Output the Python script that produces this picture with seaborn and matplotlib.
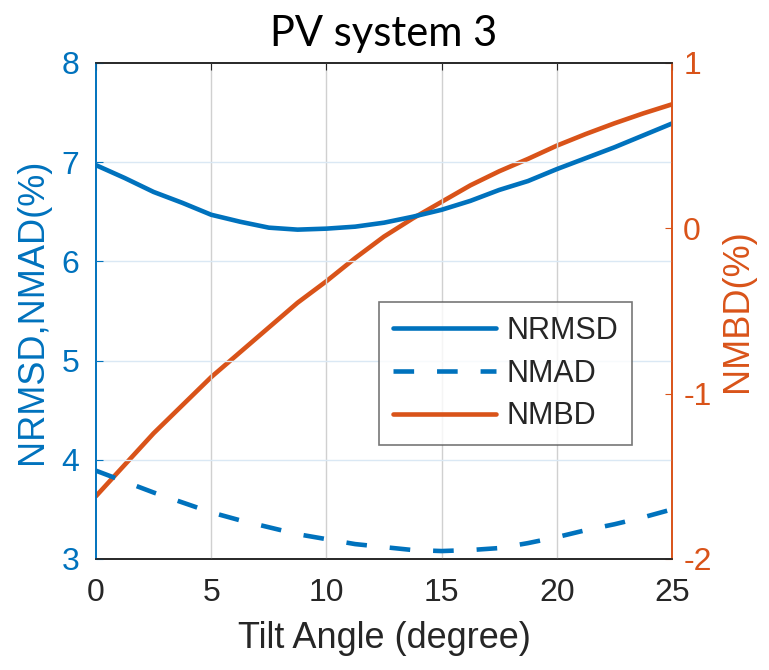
import numpy as np
import pandas as pd
import seaborn as sns
import matplotlib.pyplot as plt
from matplotlib.lines import Line2D

# values (every 1.25 degree)
tilt = [0, 1.25, 2.5, 3.75, 5, 6.25, 7.5, 8.75, 10, 11.25, 12.5,
        13.75, 15, 16.25, 17.5, 18.75, 20, 21.25, 22.5, 23.75, 25]
nrmsd = [6.97, 6.84, 6.70, 6.59, 6.47, 6.40, 6.34, 6.32, 6.33, 6.35, 6.39,
         6.45, 6.52, 6.61, 6.72, 6.81, 6.93, 7.04, 7.15, 7.27, 7.39]
nmad = [3.89, 3.78, 3.67, 3.57, 3.47, 3.39, 3.32, 3.25, 3.20, 3.15, 3.12,
        3.09, 3.08, 3.09, 3.11, 3.16, 3.22, 3.29, 3.35, 3.42, 3.50]
nmbd = [-1.62, -1.43, -1.24, -1.07, -0.90, -0.75, -0.60, -0.45, -0.32, -0.18, -0.05,
        0.06, 0.16, 0.26, 0.345, 0.42, 0.50, 0.57, 0.635, 0.695, 0.75]

x_ticks = [0, 5, 10, 15, 20, 25]
left_ticks = [3, 4, 5, 6, 7, 8]
right_ticks = [-2, -1, 0, 1]

blue = "#0072BD"
orange = "#D95319"
dark = "#262626"
dash = (4.5, 5.0)

sns.set_style("white")
plt.rcParams['font.family'] = ['Liberation Sans', 'DejaVu Sans']
plt.rcParams['axes.unicode_minus'] = False

df = pd.DataFrame({"tilt": tilt, "NRMSD": nrmsd, "NMAD": nmad, "NMBD": nmbd})

fig = plt.figure(figsize=(7.69, 6.70), dpi=100)
ax = fig.add_axes([0.1248, 0.1657, 0.7491, 0.7403])
ax2 = ax.twinx()

lw = 3.3
sns.lineplot(data=df, x="tilt", y="NRMSD", ax=ax, color=blue, linewidth=lw)
sns.lineplot(data=df, x="tilt", y="NMAD", ax=ax, color=blue, linewidth=lw)
ax.lines[-1].set_dashes(dash)
sns.lineplot(data=df, x="tilt", y="NMBD", ax=ax2, color=orange, linewidth=lw)

ax.set_xlim(0, 25)
ax.set_ylim(3, 8)
ax2.set_ylim(-2, 1)
ax.set_xticks(x_ticks)
ax.set_yticks(left_ticks)
ax2.set_yticks(right_ticks)

# grid: grey verticals, faint blue horizontals
for xv in x_ticks[1:-1]:
    ax.axvline(xv, color="#d0d0d0", linewidth=1, zorder=0)
for yv in left_ticks[1:-1]:
    ax.axhline(yv, color="#dae8f4", linewidth=1, zorder=0)

ax.tick_params(axis="x", direction="in", length=5, colors=dark, labelsize=23,
               top=True, pad=14, labelcolor=dark)
ax.tick_params(axis="y", direction="in", length=5, colors=blue, labelsize=23,
               labelcolor=blue, pad=12)
ax2.tick_params(axis="y", direction="in", length=5, colors=orange, labelsize=23,
                labelcolor=orange, pad=8)

for a in (ax, ax2):
    a.spines["top"].set_color(dark)
    a.spines["bottom"].set_color(dark)
    a.spines["left"].set_color(blue)
    a.spines["right"].set_color(orange)
    for s in a.spines.values():
        s.set_linewidth(1.2)

ax.set_xlabel("Tilt Angle (degree)", fontsize=26, color=dark, labelpad=9)
ax.set_ylabel("NRMSD,NMAD(%)", fontsize=26, color=blue, labelpad=8)
ax2.set_ylabel("NMBD(%)", fontsize=26, color=orange, labelpad=6)
ax.set_title("PV system 3", fontsize=30, family=["Lato", "DejaVu Sans"],
             color="black", pad=12)

handles = [
    Line2D([], [], color=blue, linewidth=lw),
    Line2D([], [], color=blue, linewidth=lw, dashes=dash),
    Line2D([], [], color=orange, linewidth=lw),
]
leg = ax.legend(handles, ["NRMSD", "NMAD", "NMBD"], loc="upper left",
                bbox_to_anchor=(0.491, 0.518), borderaxespad=0, fontsize=22,
                frameon=True, fancybox=False, edgecolor="#555555",
                handlelength=3.4, handletextpad=0.33, labelspacing=0.42,
                borderpad=0.45)
leg.get_frame().set_linewidth(1.2)
ax.set_zorder(ax2.get_zorder() + 1)
ax.patch.set_visible(False)

fig.savefig("out.png", dpi=100)
